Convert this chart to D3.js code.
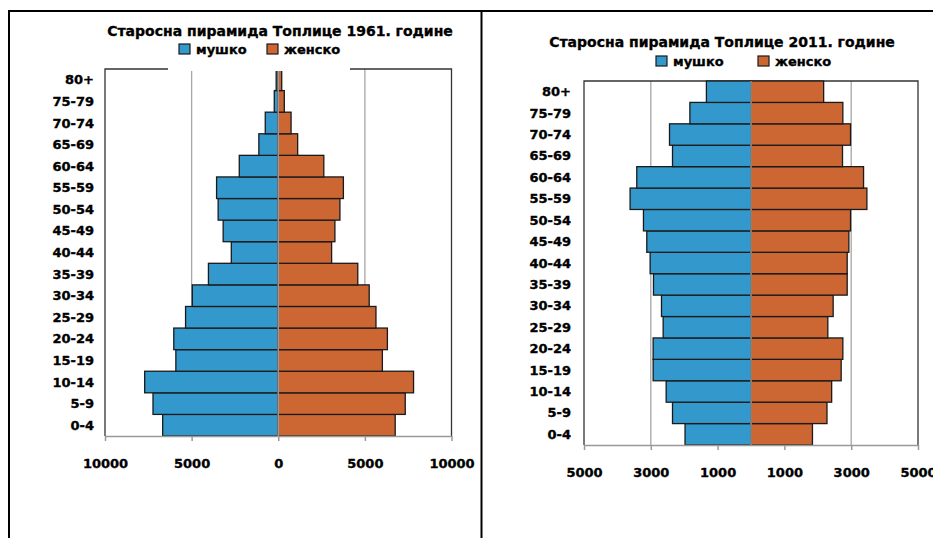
<!DOCTYPE html>
<html>
<head>
<meta charset="utf-8">
<script src="https://cdnjs.cloudflare.com/ajax/libs/d3/7.8.5/d3.min.js"></script>
<style>
  body { margin: 0; background: #fff; }
  svg text { font-family: "DejaVu Sans", sans-serif; font-weight: bold; fill: #000; stroke: #000; stroke-width: 0.35px; }
</style>
</head>
<body>
<div id="chart"></div>
<script>
// age groups, bottom to top
var ageGroups = ["0-4", "5-9", "10-14", "15-19", "20-24", "25-29", "30-34", "35-39",
  "40-44", "45-49", "50-54", "55-59", "60-64", "65-69", "70-74", "75-79", "80+"];

var male1961 = [6670, 7230, 7710, 5910, 6030, 5350, 4960, 4030,
  2710, 3180, 3470, 3560, 2250, 1120, 750, 230, 120];
var female1961 = [6750, 7330, 7810, 6010, 6300, 5640, 5250, 4590,
  3080, 3270, 3560, 3760, 2630, 1120, 740, 350, 200];

var male2011 = [1975, 2350, 2540, 2930, 2930, 2630, 2680, 2920,
  3020, 3120, 3220, 3620, 3420, 2350, 2440, 1830, 1335];
var female2011 = [1840, 2275, 2415, 2700, 2750, 2300, 2460, 2880,
  2880, 2930, 2980, 3470, 3370, 2740, 2980, 2750, 2175];

var ticks1961 = [-10000, -5000, 0, 5000, 10000];
var grid1961 = [-5000, 5000];
var ticks2011 = [-5000, -3000, -1000, 1000, 3000, 5000];
var grid2011 = [-3000, -1000, 1000, 3000];

var legendNames = ["мушко", "женско"];
var colMale = "#3399cc";
var colFemale = "#cc6633";

var W = 933, H = 538;

var svg = d3.select("#chart").append("svg")
  .attr("width", W)
  .attr("height", H);

svg.append("rect").attr("width", W).attr("height", H).attr("fill", "#fff");

var makePyramid = function(o) {
  var g = svg.append("g");

  var x = d3.scaleLinear().domain(o.domain).range([o.left, o.right]);
  var y = d3.scaleBand().domain(ageGroups).range([o.bottom, o.top]).padding(0);

  // gridlines
  g.selectAll(".grid").data(o.grid).enter().append("line")
    .attr("x1", function(d) { return x(d); })
    .attr("x2", function(d) { return x(d); })
    .attr("y1", o.top).attr("y2", o.bottom)
    .style("stroke", "#a6a6a6").style("stroke-width", 1.3);

  // plot frame (left, right, top)
  g.append("path")
    .attr("d", "M" + o.left + "," + o.bottom + "V" + o.top + "H" + o.right + "V" + o.bottom)
    .style("fill", "none").style("stroke", "#333").style("stroke-width", 1.3);

  var rows = ageGroups.map(function(a, i) {
    return { age: a, m: o.male[i], f: o.female[i] };
  });

  g.selectAll(".m").data(rows).enter().append("rect")
    .attr("x", function(d) { return x(-d.m); })
    .attr("y", function(d) { return y(d.age); })
    .attr("width", function(d) { return x(0) - x(-d.m); })
    .attr("height", y.bandwidth())
    .style("fill", colMale).style("stroke", "#1a1a1a").style("stroke-width", 1.3);

  g.selectAll(".f").data(rows).enter().append("rect")
    .attr("x", x(0))
    .attr("y", function(d) { return y(d.age); })
    .attr("width", function(d) { return x(d.f) - x(0); })
    .attr("height", y.bandwidth())
    .style("fill", colFemale).style("stroke", "#1a1a1a").style("stroke-width", 1.3);

  // center axis line
  g.append("line")
    .attr("x1", x(0)).attr("x2", x(0))
    .attr("y1", o.top).attr("y2", o.bottom)
    .style("stroke", "#999").style("stroke-width", 1.5);

  // bottom axis
  var axis = d3.axisBottom(x)
    .tickValues(o.ticks)
    .tickSize(5)
    .tickSizeOuter(0)
    .tickFormat(function(d) { return Math.abs(d); });

  var ax = g.append("g")
    .attr("transform", "translate(0," + o.bottom + ")")
    .call(axis);
  ax.select(".domain").style("stroke", "#999").style("stroke-width", 1.5);
  ax.selectAll(".tick line").style("stroke", "#999").style("stroke-width", 1.5);
  ax.selectAll(".tick text")
    .attr("y", o.tickLabelY - o.bottom)
    .attr("dy", "0.35em")
    .style("font-size", "13px")
    .style("font-family", "DejaVu Sans")
    .style("font-weight", "bold")
    .style("fill", "#000");

  // age labels
  g.selectAll(".lab").data(ageGroups).enter().append("text")
    .attr("x", o.labelX)
    .attr("y", function(d) { return y(d) + y.bandwidth() / 2; })
    .attr("dy", "0.35em")
    .attr("text-anchor", "end")
    .style("font-size", "13px")
    .text(function(d) { return d; });

  // legend (white box hides the frame behind it)
  if (o.legendBox) {
    g.append("rect")
      .attr("x", o.legendBox[0]).attr("y", o.legendBox[1])
      .attr("width", o.legendBox[2]).attr("height", o.legendBox[3])
      .style("fill", "#fff");
  }

  g.append("text")
    .attr("x", o.titleX).attr("y", o.titleY)
    .attr("dy", "0.35em")
    .attr("text-anchor", "middle")
    .style("font-size", "14px")
    .text(o.title);

  var cols = [colMale, colFemale];
  legendNames.forEach(function(name, i) {
    g.append("rect")
      .attr("x", o.legendX[i]).attr("y", o.legendY - 5)
      .attr("width", 11).attr("height", 10)
      .style("fill", cols[i]).style("stroke", "#1a1a1a").style("stroke-width", 1.2);
    g.append("text")
      .attr("x", o.legendX[i] + 17).attr("y", o.legendY)
      .attr("dy", "0.35em")
      .style("font-size", "13px")
      .text(name);
  });
};

// outer frame
svg.append("path")
  .attr("d", "M9," + H + "V11H" + W + "M481.5,11V" + H)
  .style("fill", "none").style("stroke", "#000").style("stroke-width", 2);

makePyramid({
  title: "Старосна пирамида Топлице 1961. године",
  titleX: 280, titleY: 31,
  legendX: [179, 267], legendY: 49,
  legendBox: [168, 38, 182, 33],
  male: male1961, female: female1961,
  domain: [-10000, 10000],
  left: 105, right: 451.5, top: 69, bottom: 436,
  ticks: ticks1961, grid: grid1961,
  tickLabelY: 463, labelX: 94
});

makePyramid({
  title: "Старосна пирамида Топлице 2011. године",
  titleX: 722, titleY: 42,
  legendX: [656, 758], legendY: 61,
  legendBox: null,
  male: male2011, female: female2011,
  domain: [-5000, 5000],
  left: 584, right: 918, top: 81, bottom: 445,
  ticks: ticks2011, grid: grid2011,
  tickLabelY: 472, labelX: 571
});
</script>
</body>
</html>
